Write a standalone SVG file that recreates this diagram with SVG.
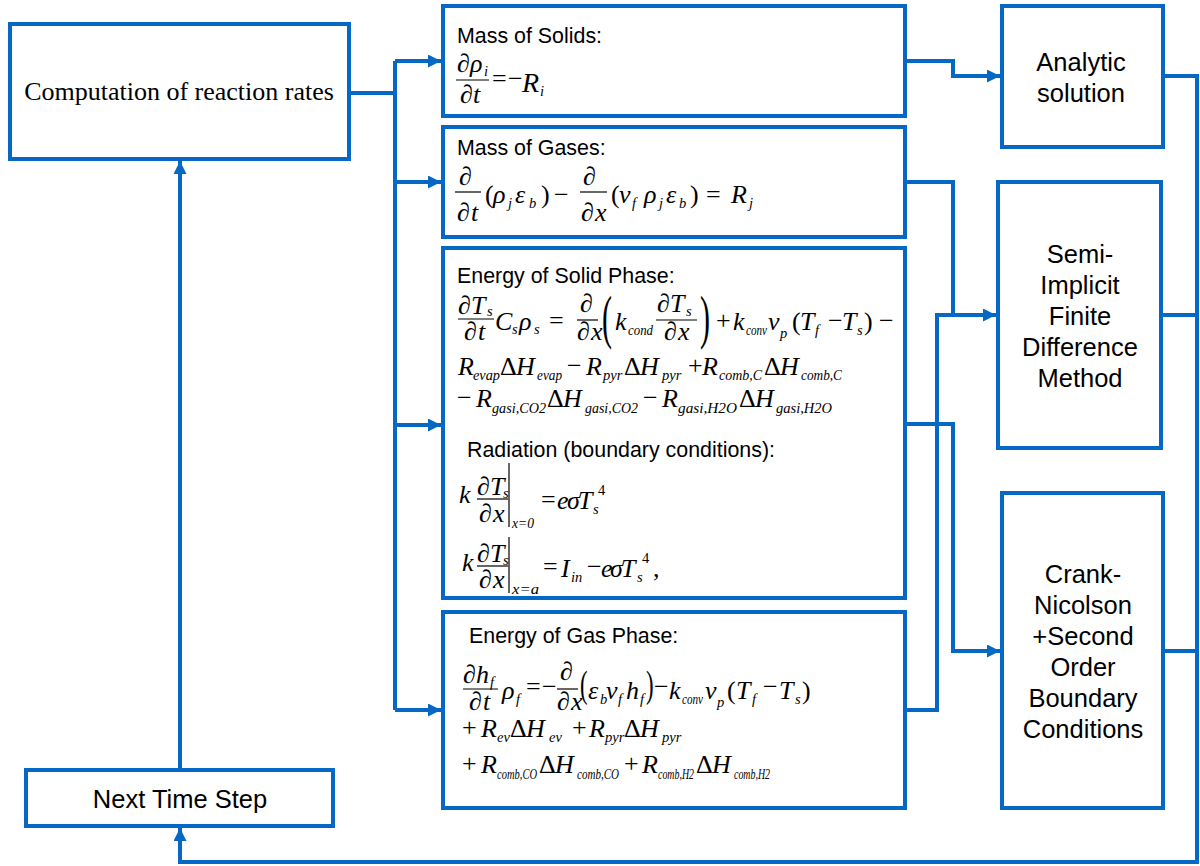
<svg xmlns="http://www.w3.org/2000/svg" width="1200" height="866" viewBox="0 0 1200 866">
<defs>
<style>
.box{fill:#fff;stroke:#0568C4;stroke-width:4}
.c{fill:none;stroke:#0568C4;stroke-width:4}
.lbl{font-family:"Liberation Sans",Arial,sans-serif;font-size:25.5px;fill:#000;text-anchor:middle}
.hd{font-family:"Liberation Sans",Arial,sans-serif;font-size:21.4px;fill:#000}
.ser{font-family:"Liberation Serif","Times New Roman",serif;font-size:26px;fill:#000;text-anchor:middle}
.m{font-family:"Liberation Serif","Times New Roman",serif;font-style:italic;font-size:26px;fill:#000}
.o{font-style:normal}
.s{font-size:14.5px}
.fb{stroke:#000;stroke-width:1.2}
</style>
<marker id="ah" markerUnits="userSpaceOnUse" markerWidth="14" markerHeight="14" refX="13" refY="6.5" orient="auto"><path d="M0,0 L13,6.5 L0,13 z" fill="#0568C4"/></marker>
</defs>
<rect width="1200" height="866" fill="#fff"/>

<g id="computation">
<rect class="box" x="10" y="24" width="339" height="135"/>
<text class="ser" x="179" y="100">Computation of reaction rates</text>
</g>

<g id="next-time-step">
<rect class="box" x="26" y="770" width="307" height="56"/>
<text class="lbl" x="180" y="808">Next Time Step</text>
</g>

<g id="mass-solids">
<rect class="box" x="443" y="6" width="462" height="110"/>
<text class="hd" x="457" y="43">Mass of Solids:</text>
<line class="fb" x1="456" y1="80" x2="489" y2="80"/>
<text class="m"><tspan class="o" x="457" y="72">∂</tspan><tspan x="470" y="72">ρ</tspan><tspan class="s" x="484" y="76">i</tspan><tspan class="o" x="460" y="103">∂</tspan><tspan x="473" y="103">t</tspan><tspan class="o" x="492" y="87">=</tspan><tspan class="o" x="508" y="87">−</tspan><tspan x="522" y="92" style="font-size:28px">R</tspan><tspan class="s" x="540" y="96">i</tspan></text>
</g>

<g id="mass-gases">
<rect class="box" x="443" y="127" width="462" height="110"/>
<text class="hd" x="457" y="155">Mass of Gases:</text>
<line class="fb" x1="455" y1="192" x2="481" y2="192"/>
<line class="fb" x1="580" y1="192" x2="607" y2="192"/>
<text class="m"><tspan class="o" x="459" y="185">∂</tspan><tspan class="o" x="457" y="221">∂</tspan><tspan x="471" y="221">t</tspan><tspan class="o" x="485" y="203">(</tspan><tspan x="493" y="203">ρ</tspan><tspan class="s" x="508" y="208">j</tspan><tspan x="515" y="203">ε</tspan><tspan class="s" x="529" y="208">b</tspan><tspan class="o" x="541" y="203">)</tspan><tspan class="o" x="554" y="203">−</tspan><tspan class="o" x="583" y="185">∂</tspan><tspan class="o" x="581" y="221">∂</tspan><tspan x="595" y="221">x</tspan><tspan class="o" x="611" y="203">(</tspan><tspan x="619" y="203">v</tspan><tspan class="s" x="632" y="208">f</tspan><tspan x="644" y="203">ρ</tspan><tspan class="s" x="659" y="208">j</tspan><tspan x="666" y="203">ε</tspan><tspan class="s" x="679" y="208">b</tspan><tspan class="o" x="690" y="203">)</tspan><tspan class="o" x="706" y="203">=</tspan><tspan x="731" y="203">R</tspan><tspan class="s" x="749" y="208">j</tspan></text>
</g>

<g id="energy-solid">
<rect class="box" x="443" y="248" width="462" height="350"/>
<text class="hd" x="457" y="283">Energy of Solid Phase:</text>
<line class="fb" x1="458" y1="319" x2="494" y2="319"/>
<line class="fb" x1="577" y1="320" x2="598" y2="320"/>
<line class="fb" x1="656" y1="320" x2="697" y2="320"/>
<text class="m o" style="font-size:60px" transform="translate(602,337) scale(0.5,1)">(</text>
<text class="m o" style="font-size:60px" transform="translate(700,337) scale(0.5,1)">)</text>
<text class="m"><tspan class="o" x="458" y="314">∂</tspan><tspan x="471" y="314">T</tspan><tspan class="s" x="487" y="316">s</tspan><tspan class="o" x="464" y="340">∂</tspan><tspan x="478" y="340">t</tspan><tspan x="495" y="330">C</tspan><tspan class="s" x="512" y="334">s</tspan><tspan x="519" y="330">ρ</tspan><tspan class="s" x="534" y="334">s</tspan><tspan class="o" x="549" y="329">=</tspan><tspan class="o" x="580" y="312">∂</tspan><tspan class="o" x="577" y="340">∂</tspan><tspan x="591" y="340">x</tspan><tspan x="615" y="330">k</tspan><tspan class="s" x="628" y="335" textLength="25" lengthAdjust="spacingAndGlyphs">cond</tspan><tspan class="o" x="657" y="312">∂</tspan><tspan x="670" y="312">T</tspan><tspan class="s" x="686" y="316">s</tspan><tspan class="o" x="664" y="340">∂</tspan><tspan x="678" y="340">x</tspan><tspan class="o" x="716" y="329">+</tspan><tspan x="733" y="330">k</tspan><tspan class="s" x="746" y="335" textLength="21" lengthAdjust="spacingAndGlyphs">conv</tspan><tspan x="768" y="330">v</tspan><tspan class="s" x="780" y="338">p</tspan><tspan class="o" x="792" y="330">(</tspan><tspan x="800" y="330">T</tspan><tspan class="s" x="815" y="335">f</tspan><tspan class="o" x="828" y="329">−</tspan><tspan x="842" y="330">T</tspan><tspan class="s" x="857" y="335">s</tspan><tspan class="o" x="864" y="330">)</tspan><tspan class="o" x="879" y="329">−</tspan></text>
<text class="m"><tspan x="458" y="375">R</tspan><tspan class="s" x="473" y="380" textLength="27" lengthAdjust="spacingAndGlyphs">evap</tspan><tspan class="o" x="500" y="375">Δ</tspan><tspan x="516" y="375">H</tspan><tspan class="s" x="537" y="380" textLength="25" lengthAdjust="spacingAndGlyphs">evap</tspan><tspan class="o" x="567" y="374">−</tspan><tspan x="586" y="375">R</tspan><tspan class="s" x="603" y="380">pyr</tspan><tspan class="o" x="624" y="375">Δ</tspan><tspan x="640" y="375">H</tspan><tspan class="s" x="662" y="380">pyr</tspan><tspan class="o" x="688" y="374">+</tspan><tspan x="702" y="375">R</tspan><tspan class="s" x="719" y="380" textLength="43" lengthAdjust="spacingAndGlyphs">comb,C</tspan><tspan class="o" x="764" y="375">Δ</tspan><tspan x="780" y="375">H</tspan><tspan class="s" x="801" y="380" textLength="41" lengthAdjust="spacingAndGlyphs">comb,C</tspan></text>
<text class="m"><tspan class="o" x="457" y="406">−</tspan><tspan x="476" y="407">R</tspan><tspan class="s" x="492" y="413" textLength="54" lengthAdjust="spacingAndGlyphs">gasi,CO2</tspan><tspan class="o" x="547" y="407">Δ</tspan><tspan x="563" y="407">H</tspan><tspan class="s" x="585" y="413" textLength="53" lengthAdjust="spacingAndGlyphs">gasi,CO2</tspan><tspan class="o" x="643" y="406">−</tspan><tspan x="662" y="407">R</tspan><tspan class="s" x="678" y="413" textLength="59" lengthAdjust="spacingAndGlyphs">gasi,H2O</tspan><tspan class="o" x="739" y="407">Δ</tspan><tspan x="755" y="407">H</tspan><tspan class="s" x="776" y="413" textLength="56" lengthAdjust="spacingAndGlyphs">gasi,H2O</tspan></text>

<text class="hd" x="467" y="457">Radiation (boundary conditions):</text>
<line class="fb" x1="477" y1="499" x2="508" y2="499"/>
<line class="fb" x1="509" y1="463" x2="509" y2="527"/>
<text class="m"><tspan x="459" y="503">k</tspan><tspan class="o" x="477" y="495">∂</tspan><tspan x="490" y="495">T</tspan><tspan class="s" x="503" y="498">s</tspan><tspan class="o" x="479" y="522">∂</tspan><tspan x="493" y="522">x</tspan><tspan class="s" x="512" y="528" textLength="22" lengthAdjust="spacingAndGlyphs">x=0</tspan><tspan class="o" x="541" y="508">=</tspan><tspan x="557" y="509">e</tspan><tspan x="567" y="509">σ</tspan><tspan x="578" y="509">T</tspan><tspan class="s" x="593" y="514">s</tspan><tspan class="o s" x="598" y="495">4</tspan></text>
<line class="fb" x1="477" y1="566" x2="508" y2="566"/>
<line class="fb" x1="509" y1="537" x2="509" y2="593"/>
<text class="m"><tspan x="462" y="571">k</tspan><tspan class="o" x="477" y="562">∂</tspan><tspan x="490" y="562">T</tspan><tspan class="s" x="503" y="565">s</tspan><tspan class="o" x="479" y="588">∂</tspan><tspan x="493" y="588">x</tspan><tspan class="s" x="512" y="594" textLength="27" lengthAdjust="spacingAndGlyphs">x=a</tspan><tspan class="o" x="543" y="575">=</tspan><tspan x="561" y="577">I</tspan><tspan class="s" x="571" y="582">in</tspan><tspan class="o" x="587" y="575">−</tspan><tspan x="601" y="577">e</tspan><tspan x="610" y="577">σ</tspan><tspan x="621" y="577">T</tspan><tspan class="s" x="637" y="582">s</tspan><tspan class="o s" x="642" y="563">4</tspan><tspan class="o" x="653" y="577">,</tspan></text>
</g>

<g id="energy-gas">
<rect class="box" x="443" y="612" width="462" height="196"/>
<text class="hd" x="469" y="643">Energy of Gas Phase:</text>
<line class="fb" x1="463" y1="689" x2="498" y2="689"/>
<line class="fb" x1="557" y1="689" x2="578" y2="689"/>
<text class="m o" style="font-size:38px" transform="translate(580,697) scale(0.6,1)">(</text>
<text class="m o" style="font-size:38px" transform="translate(646,697) scale(0.6,1)">)</text>
<text class="m"><tspan class="o" x="463" y="683">∂</tspan><tspan x="476" y="683">h</tspan><tspan class="s" x="490" y="687">f</tspan><tspan class="o" x="469" y="710">∂</tspan><tspan x="483" y="710">t</tspan><tspan x="502" y="699">ρ</tspan><tspan class="s" x="516" y="704">f</tspan><tspan class="o" x="526" y="695">=</tspan><tspan class="o" x="542" y="695">−</tspan><tspan class="o" x="560" y="680">∂</tspan><tspan class="o" x="557" y="710">∂</tspan><tspan x="571" y="710">x</tspan><tspan x="588" y="699">ε</tspan><tspan class="s" x="600" y="704">b</tspan><tspan x="606" y="699">v</tspan><tspan class="s" x="618" y="704">f</tspan><tspan x="626" y="699">h</tspan><tspan class="s" x="640" y="704">f</tspan><tspan class="o" x="654" y="695">−</tspan><tspan x="669" y="699">k</tspan><tspan class="s" x="682" y="704" textLength="21" lengthAdjust="spacingAndGlyphs">conv</tspan><tspan x="705" y="699">v</tspan><tspan class="s" x="717" y="707">p</tspan><tspan class="o" x="727" y="699">(</tspan><tspan x="736" y="699">T</tspan><tspan class="s" x="752" y="704">f</tspan><tspan class="o" x="763" y="695">−</tspan><tspan x="779" y="699">T</tspan><tspan class="s" x="795" y="704">s</tspan><tspan class="o" x="802" y="699">)</tspan></text>
<text class="m"><tspan class="o" x="462" y="736">+</tspan><tspan x="481" y="737">R</tspan><tspan class="s" x="497" y="742">ev</tspan><tspan class="o" x="510" y="737">Δ</tspan><tspan x="526" y="737">H</tspan><tspan class="s" x="549" y="742">ev</tspan><tspan class="o" x="572" y="736">+</tspan><tspan x="589" y="737">R</tspan><tspan class="s" x="605" y="742">pyr</tspan><tspan class="o" x="624" y="737">Δ</tspan><tspan x="640" y="737">H</tspan><tspan class="s" x="662" y="742">pyr</tspan></text>
<text class="m"><tspan class="o" x="462" y="772">+</tspan><tspan x="481" y="773">R</tspan><tspan class="s" x="497" y="779" textLength="40" lengthAdjust="spacingAndGlyphs">comb,CO</tspan><tspan class="o" x="539" y="773">Δ</tspan><tspan x="555" y="773">H</tspan><tspan class="s" x="577" y="779" textLength="42" lengthAdjust="spacingAndGlyphs">comb,CO</tspan><tspan class="o" x="624" y="772">+</tspan><tspan x="642" y="773">R</tspan><tspan class="s" x="658" y="779" textLength="36" lengthAdjust="spacingAndGlyphs">comb,H2</tspan><tspan class="o" x="696" y="773">Δ</tspan><tspan x="712" y="773">H</tspan><tspan class="s" x="734" y="779" textLength="36" lengthAdjust="spacingAndGlyphs">comb,H2</tspan></text>
</g>

<g id="analytic">
<rect class="box" x="1002" y="6" width="161" height="141"/>
<text class="lbl" x="1081" y="71">Analytic</text>
<text class="lbl" x="1081" y="102">solution</text>
</g>

<g id="semi-implicit">
<rect class="box" x="998" y="182" width="163" height="266"/>
<text class="lbl" x="1080" y="263">Semi-</text>
<text class="lbl" x="1080" y="294">Implicit</text>
<text class="lbl" x="1080" y="325">Finite</text>
<text class="lbl" x="1080" y="356">Difference</text>
<text class="lbl" x="1080" y="387">Method</text>
</g>

<g id="crank-nicolson">
<rect class="box" x="1002" y="493" width="161" height="315"/>
<text class="lbl" x="1083" y="583">Crank-</text>
<text class="lbl" x="1083" y="614">Nicolson</text>
<text class="lbl" x="1083" y="645">+Second</text>
<text class="lbl" x="1083" y="676">Order</text>
<text class="lbl" x="1083" y="707">Boundary</text>
<text class="lbl" x="1083" y="738">Conditions</text>
</g>

<g id="connectors">
<path class="c" d="M349,93 H395"/>
<path class="c" d="M395,61 V710"/>
<path class="c" d="M395,61 H441" marker-end="url(#ah)"/>
<path class="c" d="M395,182 H441" marker-end="url(#ah)"/>
<path class="c" d="M395,425 H441" marker-end="url(#ah)"/>
<path class="c" d="M395,710 H441" marker-end="url(#ah)"/>
<path class="c" d="M905,61 H953 V76 H1000" marker-end="url(#ah)"/>
<path class="c" d="M905,182 H953 V315 H996" marker-end="url(#ah)"/>
<path class="c" d="M905,710 H937 V315 H953"/>
<path class="c" d="M905,424 H953 V651 H1000" marker-end="url(#ah)"/>
<path class="c" d="M1163,76 H1197 V862 H180 V828" marker-end="url(#ah)"/>
<path class="c" d="M1161,315 H1197"/>
<path class="c" d="M1163,651 H1197"/>
<path class="c" d="M180,770 V161" marker-end="url(#ah)"/>
</g>
</svg>
